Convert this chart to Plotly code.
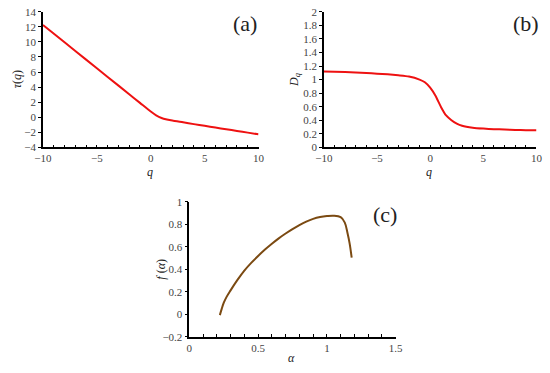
import plotly.graph_objects as go

# Panel (a): tau(q)
q_tau = [-10, -8, -6, -4, -2, -1, 0, 0.5, 1, 1.5, 2, 3, 4, 5, 6, 7, 8, 9, 10]
tau = [12.25, 9.95, 7.65, 5.35, 3.05, 1.9, 0.75, 0.25, -0.1, -0.3, -0.45, -0.68, -0.92, -1.15, -1.38, -1.6, -1.83, -2.05, -2.28]

# Panel (b): D_q
q_d = [-10, -8, -6, -5, -4, -3, -2, -1, -0.5, 0, 0.5, 1, 1.5, 2, 2.5, 3, 4, 5, 6, 7, 8, 9, 10]
dq = [1.12, 1.11, 1.095, 1.087, 1.077, 1.063, 1.045, 1.0, 0.96, 0.88, 0.76, 0.6, 0.47, 0.4, 0.35, 0.318, 0.289, 0.276, 0.268, 0.262, 0.257, 0.253, 0.25]

# Panel (c): f(alpha)
alpha = [0.222, 0.235, 0.25, 0.27, 0.3, 0.35, 0.4, 0.45, 0.5, 0.55, 0.6, 0.65, 0.7, 0.75, 0.8, 0.85, 0.9, 0.95, 1.0, 1.05, 1.1, 1.13, 1.15, 1.165, 1.18]
f_alpha = [-0.008, 0.045, 0.1, 0.152, 0.212, 0.305, 0.388, 0.457, 0.518, 0.575, 0.627, 0.675, 0.718, 0.757, 0.793, 0.824, 0.848, 0.864, 0.873, 0.876, 0.863, 0.815, 0.72, 0.63, 0.503]

RED = "#ee1111"
BROWN = "#7b4a12"
FONT = "Liberation Serif, Times New Roman, serif"

fig = go.Figure()
fig.add_trace(go.Scatter(x=q_tau, y=tau, mode="lines", line=dict(color=RED, width=2, shape="spline", smoothing=0.6), xaxis="x", yaxis="y", showlegend=False))
fig.add_trace(go.Scatter(x=q_d, y=dq, mode="lines", line=dict(color=RED, width=2, shape="spline", smoothing=0.6), xaxis="x2", yaxis="y2", showlegend=False))
fig.add_trace(go.Scatter(x=alpha, y=f_alpha, mode="lines", line=dict(color=BROWN, width=2, shape="spline", smoothing=1.0), xaxis="x3", yaxis="y3", showlegend=False))

tickfont = dict(family=FONT, size=11, color="#444")

def xax(domain, anchor, rng, dtick, minor):
    return dict(domain=domain, anchor=anchor, range=rng, dtick=dtick, tick0=rng[0],
                showgrid=False, zeroline=False, showline=True, linecolor="black", linewidth=1.5,
                ticks="inside", ticklen=3, tickcolor="black", tickfont=tickfont,
                minor=dict(dtick=minor, ticks="inside", ticklen=3, tickcolor="black", showgrid=False))

def yax(domain, anchor, rng, dtick):
    return dict(domain=domain, anchor=anchor, range=rng, dtick=dtick, tick0=rng[0],
                showgrid=False, zeroline=False, showline=True, linecolor="black", linewidth=1.5,
                ticks="outside", ticklen=3, tickcolor="black", tickfont=tickfont)

W, H = 550, 373
def px(x):
    return x / W
def py(y):
    return 1 - y / H

fig.update_layout(
    width=W, height=H,
    margin=dict(l=0, r=0, t=0, b=0),
    paper_bgcolor="white", plot_bgcolor="white",
    xaxis=xax([px(35), px(257)], "y", [-10, 10], 5, 1),
    yaxis=yax([py(146), py(6)], "x", [-4, 14], 2),
    xaxis2=xax([px(324.3), px(543.3)], "y2", [-10, 10], 5, 1),
    yaxis2=yax([py(146), py(6)], "x2", [0, 2], 0.2),
    xaxis3=xax([px(185.7), px(398.3)], "y3", [0, 1.5], 0.5, 0.1),
    yaxis3=yax([py(341.7), py(202.3)], "x3", [-0.2, 1], 0.2),
)

ann = []
def label(text, x, y, size=12, angle=0):
    ann.append(dict(text=text, x=px(x), y=py(y), xref="paper", yref="paper", showarrow=False,
                    font=dict(family=FONT, size=size, color="#222"), textangle=angle,
                    xanchor="center", yanchor="middle"))

label("<i>q</i>", 145, 172)
label("<i>τ</i>(<i>q</i>)", 8, 76, angle=-90)
label("<i>q</i>", 433, 172)
label("<i>D<sub>q</sub></i>", 294, 76, angle=-90)
label("<i>α</i>", 291, 364)
label("<i>f</i> (<i>α</i>)", 157, 272, angle=-90)
label("(a)", 243, 18, size=22)
label("(b)", 532, 18, size=22)
label("(c)", 387, 215, size=22)
fig.update_layout(annotations=ann)

fig.write_html("out.html", config={"displayModeBar": False},
               post_script="document.body.style.margin='0';document.body.style.overflow='hidden';")
